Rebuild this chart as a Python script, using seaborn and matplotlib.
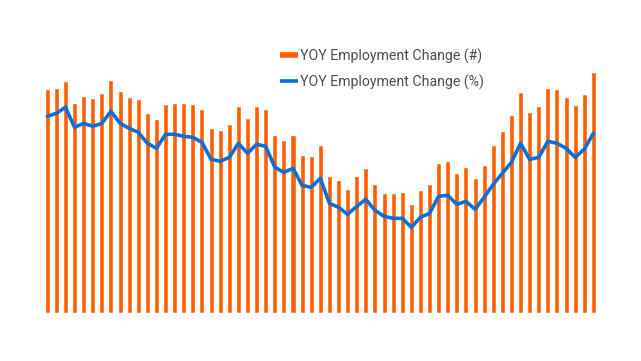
import numpy as np
import pandas as pd
import matplotlib
matplotlib.use("Agg")
import matplotlib.pyplot as plt
from matplotlib.lines import Line2D
import seaborn as sns

# values (arbitrary units, no axes are shown)
months = list(range(61))
change_num = [224, 225, 232, 210.7, 217.7, 215, 220.3, 233.3, 222.3, 216,
              214, 200, 194, 209.7, 210.7, 210, 209.3, 204, 185, 183,
              189, 207, 195, 207.7, 204.7, 178, 173.3, 178, 158, 157,
              168.7, 137, 133.7, 124.3, 137, 145, 129, 120.7, 120.7, 121.3,
              109.3, 123.7, 129.7, 150.3, 152, 140.3, 146.3, 135.3, 148.7, 168,
              182.3, 198, 221, 201.3, 207, 225.3, 224.3, 216.7, 208.7, 219.7,
              241]
change_pct = [1.97, 2.00, 2.06, 1.86, 1.90, 1.87, 1.90, 2.02, 1.90, 1.85,
              1.81, 1.70, 1.65, 1.79, 1.79, 1.77, 1.76, 1.71, 1.54, 1.52,
              1.56, 1.70, 1.60, 1.69, 1.67, 1.46, 1.41, 1.45, 1.28, 1.26,
              1.35, 1.10, 1.06, 0.99, 1.07, 1.14, 1.03, 0.97, 0.95, 0.95,
              0.86, 0.96, 1.00, 1.17, 1.18, 1.09, 1.12, 1.04, 1.16, 1.29,
              1.40, 1.51, 1.70, 1.54, 1.56, 1.72, 1.70, 1.65, 1.56, 1.64,
              1.80]

ORANGE = "#FF5F00"
BLUE = "#0B6FD6"
LABEL_NUM = "YOY Employment Change (#)"
LABEL_PCT = "YOY Employment Change (%)"

df = pd.DataFrame({"month": months, "num": change_num, "pct": change_pct})

sns.set_style("white")
plt.rcParams["font.family"] = ["Roboto", "DejaVu Sans"]

fig = plt.figure(figsize=(6.41, 3.61), dpi=100)
ax = fig.add_axes([0.0652, 0.132, 0.869, 0.701])

sns.barplot(data=df, x="month", y="num", color=ORANGE, saturation=1,
            width=0.55, ax=ax)
ax.set_xlim(-0.6, 60.6)
ax.set_ylim(0, 253)

ax2 = ax.twinx()
sns.lineplot(data=df, x="month", y="pct", color=BLUE, linewidth=2.6, ax=ax2)
ax2.set_ylim(0, 2.53)

for a in (ax, ax2):
    a.set_axis_off()

handles = [
    Line2D([0], [0], color=ORANGE, lw=4, solid_capstyle="butt"),
    Line2D([0], [0], color=BLUE, lw=2.6, solid_capstyle="butt"),
]
fig.legend(handles, [LABEL_NUM, LABEL_PCT], loc="center left",
           bbox_to_anchor=(0.4368, 0.809), frameon=False, fontsize=10.2,
           handlelength=1.25, handletextpad=0.15, labelspacing=0.75,
           borderpad=0, borderaxespad=0, labelcolor="#4d4d4d")

fig.savefig("out.png", dpi=100)
